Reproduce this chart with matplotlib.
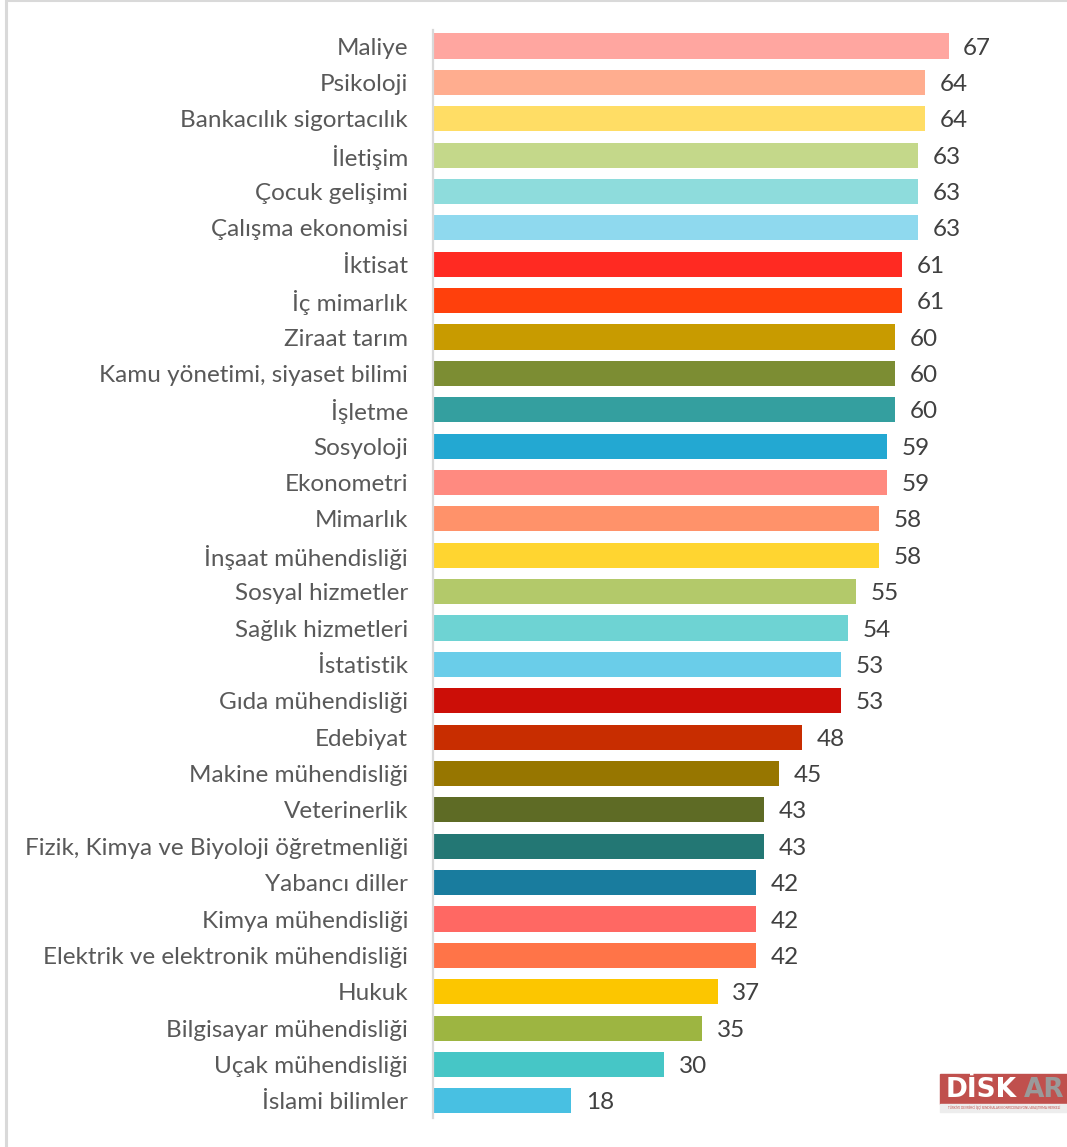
import matplotlib
matplotlib.use("Agg")
import matplotlib.pyplot as plt
from matplotlib.patches import Rectangle

categories = ["Maliye", "Psikoloji", "Bankacılık sigortacılık", "İletişim", "Çocuk gelişimi",
              "Çalışma ekonomisi", "İktisat", "İç mimarlık", "Ziraat tarım",
              "Kamu yönetimi, siyaset bilimi", "İşletme", "Sosyoloji", "Ekonometri", "Mimarlık",
              "İnşaat mühendisliği", "Sosyal hizmetler", "Sağlık hizmetleri", "İstatistik",
              "Gıda mühendisliği", "Edebiyat", "Makine mühendisliği", "Veterinerlik",
              "Fizik, Kimya ve Biyoloji öğretmenliği", "Yabancı diller", "Kimya mühendisliği",
              "Elektrik ve elektronik mühendisliği", "Hukuk", "Bilgisayar mühendisliği",
              "Uçak mühendisliği", "İslami bilimler"]
values = [67, 64, 64, 63, 63, 63, 61, 61, 60, 60, 60, 59, 59, 58, 58, 55, 54, 53, 53, 48,
          45, 43, 43, 42, 42, 42, 37, 35, 30, 18]
colors = ["#FFA6A0", "#FFAD8F", "#FFDD65", "#C4D88A", "#8EDCDC", "#8FD9EE", "#FF2A22",
          "#FF400C", "#C89B00", "#7C8D33", "#349F9F", "#23A8D2", "#FF8A80", "#FF926A",
          "#FFD530", "#B3C96A", "#6ED3D3", "#6ACDE9", "#CC0E07", "#C82D00", "#977600",
          "#5E6B25", "#237774", "#197C9E", "#FF6863", "#FF7448", "#FCC600", "#9DB541",
          "#46C6C6", "#48C0E2"]

plt.rcParams['font.family'] = ['Lato', 'DejaVu Sans']
W, H = 1067, 1147
fig = plt.figure(figsize=(W / 100, H / 100), dpi=100)

# light frame
fig.patches.append(Rectangle((6 / W, -0.01), 1.05, 1.01, transform=fig.transFigure,
                             fill=False, edgecolor="#D9D9D9", linewidth=2.2))

ax = fig.add_axes([433 / W, 1 - 1118 / H, 1 - 433 / W, 1088 / H])
pos = list(range(len(categories)))
ax.barh(pos, values, height=0.69, color=colors)
ax.set_xlim(0, 82.4)
ax.set_ylim(29.47, -0.44)
ax.set_yticks(pos)
ax.set_yticklabels(categories, fontsize=17.5, color="#595959")
for t in ax.get_yticklabels():
    t.set_verticalalignment("center_baseline")
ax.tick_params(axis="y", length=0, pad=18)
ax.set_xticks([])
for s in ["top", "right", "bottom"]:
    ax.spines[s].set_visible(False)
ax.spines["left"].set_color("#D9D9D9")
ax.spines["left"].set_linewidth(1.6)
for p, v in zip(pos, values):
    ax.text(v + 1.9, p, str(v), va="center_baseline", ha="left", fontsize=17.5, color="#404040")

# logo
lx0, ly0, lw, lh = 940, 1074, 127, 30
fig.patches.append(Rectangle((lx0 / W, 1 - (ly0 + lh) / H), lw / W, lh / H,
                             transform=fig.transFigure, color="#C0504D"))
fig.patches.append(Rectangle((lx0 / W, 1 - (ly0 + lh + 8) / H), lw / W, 8 / H,
                             transform=fig.transFigure, color="#EDEDED"))
fig.text(946 / W, 1 - 1090 / H, "DİSK", fontsize=19, fontweight="bold", color="white",
         va="center", ha="left", family=["DejaVu Sans"])
fig.text(1024 / W, 1 - 1090 / H, "AR", fontsize=19, fontweight="bold", color="#9A9A9A",
         va="center", ha="left", family=["DejaVu Sans"])
fig.text(948 / W, 1 - 1108 / H, "TÜRKİYE DEVRİMCİ İŞÇİ SENDİKALARI KONFEDERASYONU ARAŞTIRMA MERKEZİ",
         fontsize=2.2, color="#C0504D", va="center", ha="left")

fig.savefig("out.png", dpi=100)
